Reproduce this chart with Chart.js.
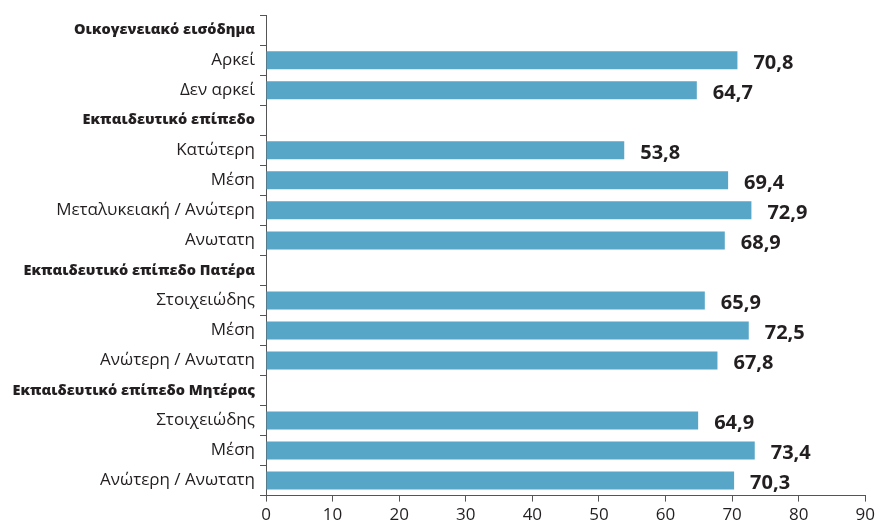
<!DOCTYPE html>
<html>
<head>
<meta charset="utf-8">
<script src="https://cdn.jsdelivr.net/npm/chart.js@4"></script>
<style>
  html, body { margin: 0; padding: 0; background: #fff; }
  #chart { display: block; }
</style>
</head>
<body>
<canvas id="chart" width="878" height="528"></canvas>
<script>
"use strict"
// categories (headers have no bar)
const labels = [
    "Οικογενειακό εισόδημα",
    "Αρκεί",
    "Δεν αρκεί",
    "Εκπαιδευτικό επίπεδο",
    "Κατώτερη",
    "Μέση",
    "Μεταλυκειακή / Ανώτερη",
    "Ανωτατη",
    "Εκπαιδευτικό επίπεδο Πατέρα",
    "Στοιχειώδης",
    "Μέση",
    "Ανώτερη / Ανωτατη",
    "Εκπαιδευτικό επίπεδο Μητέρας",
    "Στοιχειώδης",
    "Μέση",
    "Ανώτερη / Ανωτατη"
];
const headerRows = [0, 3, 8, 12];
const values = [null, 70.8, 64.7, null, 53.8, 69.4, 72.9, 68.9, null, 65.9, 72.5, 67.8, null, 64.9, 73.4, 70.3];
const xTicks = [0, 10, 20, 30, 40, 50, 60, 70, 80, 90];

const fontFam = "'Open Sans', 'Noto Sans', sans-serif";
const axisColor = "#555";

// value labels next to the bars
const valueLabels = {
    id: "valueLabels",
    afterDatasetsDraw(chart) {
        const ctx = chart.ctx;
        const meta = chart.getDatasetMeta(0);
        ctx.save();
        ctx.font = "bold 20px " + fontFam;
        ctx.fillStyle = "#231f20";
        ctx.textAlign = "left";
        ctx.textBaseline = "middle";
        meta.data.forEach(function (bar, i) {
            const v = values[i];
            if (v === null) return;
            ctx.fillText(v.toFixed(1).replace(".", ","), bar.x + 16, bar.y + 3);
        });
        ctx.restore();
    }
};

const ctx = document.getElementById("chart").getContext("2d");
const myChart = new Chart(ctx, {
    type: "bar",
    data: {
        labels: labels,
        datasets: [{
            data: values,
            backgroundColor: "#57a6c7",
            barPercentage: 0.6,
            categoryPercentage: 1.0
        }]
    },
    options: {
        indexAxis: "y",
        responsive: false,
        animation: false,
        layout: { padding: { top: 5, right: 10, left: 0, bottom: 0 } },
        plugins: {
            legend: { display: false },
            tooltip: { enabled: false }
        },
        scales: {
            x: {
                min: 0,
                max: 90,
                afterBuildTicks: function (scale) {
                    scale.ticks = xTicks.map(function (v) { return { value: v }; });
                },
                grid: {
                    drawOnChartArea: false,
                    drawTicks: true,
                    tickLength: 6,
                    color: axisColor
                },
                border: { display: true, color: axisColor, width: 1 },
                ticks: {
                    color: "#231f20",
                    font: { family: fontFam, size: 17 },
                    padding: 3,
                    maxRotation: 0
                }
            },
            y: {
                afterFit: function (scale) { scale.width = 266; },
                grid: {
                    offset: true,
                    drawOnChartArea: false,
                    drawTicks: true,
                    tickLength: 6,
                    color: axisColor
                },
                border: { display: true, color: axisColor, width: 1 },
                ticks: {
                    color: "#231f20",
                    padding: 5,
                    autoSkip: false,
                    font: function (c) {
                        if (headerRows.indexOf(c.index) >= 0) {
                            return { family: fontFam, size: 14.5, weight: "800" };
                        }
                        return { family: fontFam, size: 17 };
                    }
                }
            }
        }
    },
    plugins: [valueLabels]
});
</script>
</body>
</html>
